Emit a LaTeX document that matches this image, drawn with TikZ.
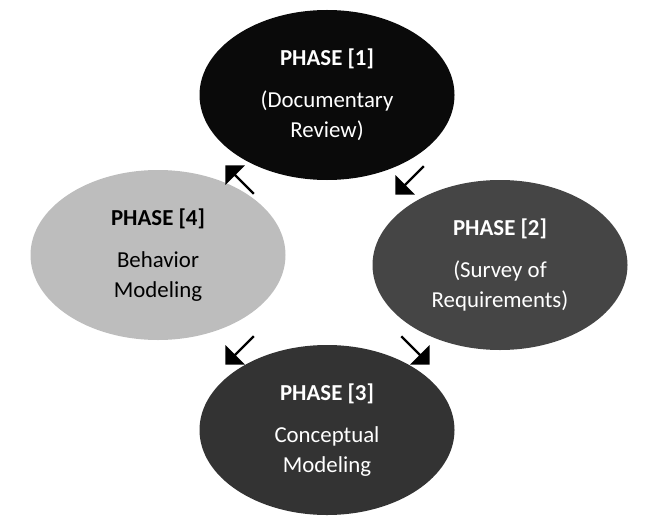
\documentclass[tikz,border=0pt]{standalone}
\usepackage{fontspec}
\setmainfont{Carlito}
\usetikzlibrary{shapes,positioning}

\definecolor{phaseone}{HTML}{0A0A0A}
\definecolor{phasetwo}{HTML}{454545}
\definecolor{phasethree}{HTML}{333333}
\definecolor{phasefour}{HTML}{BDBDBD}

\tikzset{
  phase/.style={ellipse, minimum width=5.1cm, minimum height=3.4cm, align=center,
    font=\fontsize{13}{17}\selectfont, text=white},
  link/.style={single arrow, fill=black, minimum height=0.8cm, minimum width=0.55cm,
    single arrow head extend=0.08cm, inner sep=0pt}
}

\begin{document}
\begin{tikzpicture}
    \useasboundingbox (0,0) rectangle (13,-10.6);
    \node[phase, fill=phaseone] (p1) at (6.54,-1.9) {\textbf{PHASE [1]}\\[7pt](Documentary\\Review)};
    \node[phase, fill=phasetwo] (p2) at (10.0,-5.3) {\textbf{PHASE [2]}\\[7pt](Survey of\\Requirements)};
    \node[phase, fill=phasethree] (p3) at (6.54,-8.6) {\textbf{PHASE [3]}\\[7pt]Conceptual\\Modeling};
    \node[phase, fill=phasefour, text=black] (p4) at (3.16,-5.1) {\textbf{PHASE [4]}\\[7pt]Behavior\\Modeling};
    % arrows between phases
    \node[link, rotate=135] (a41) at (4.8,-3.6) {};
    \node[link, rotate=-135] (a12) at (8.2,-3.6) {};
    \node[link, rotate=-45] (a23) at (8.3,-7.0) {};
    \node[link, rotate=-135] (a34) at (4.8,-7.0) {};
\end{tikzpicture}
\end{document}
